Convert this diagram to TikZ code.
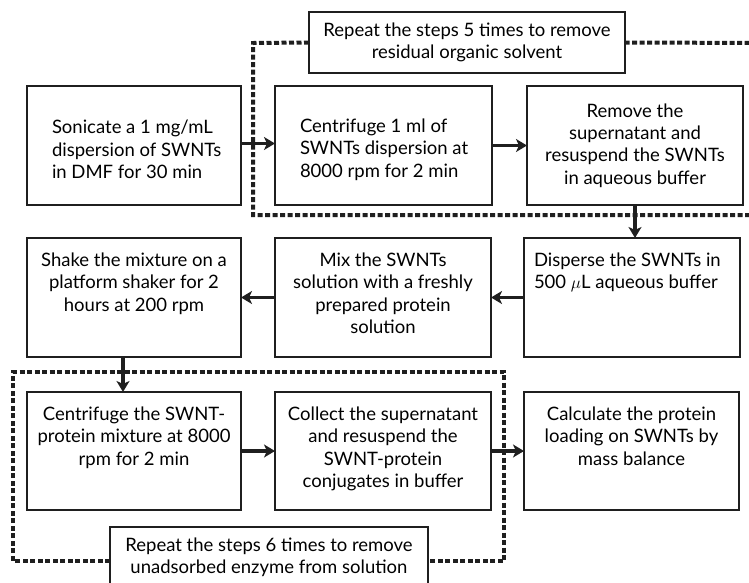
\documentclass[tikz,border=0pt]{standalone}
\usepackage{fontspec}
\setmainfont{Lato}
\usetikzlibrary{arrows.meta}
\tikzset{
  box/.style={draw=black!88, line width=1.6pt, inner sep=0pt, outer sep=0pt},
  flow/.style={line width=3.2pt, draw=black!88, -{Stealth[length=11pt,width=13pt,inset=3pt]}},
  loop/.style={line width=4pt, draw=black!88, dash pattern=on 5pt off 2.5pt},
}
\newcommand{\bt}[3]{\parbox[c][#1][c]{#2}{\centering #3}}
\newcommand{\btl}[3]{\parbox[c][#1][c]{#2}{\vspace*{8pt}\raggedright\leftskip=25pt #3}}
\newcommand{\btt}[4]{\parbox[c][#1][t]{#2}{\vspace*{#3}\centering #4}}
\begin{document}
\begin{tikzpicture}[x=1pt,y=-1pt]
\useasboundingbox (0,0) rectangle (749,582);
\clip (0,0) rectangle (749,582);
\fontsize{18.5}{22.3}\selectfont
% row 1
\node[box] (b1) at (134,145.5) {\btl{119pt}{214pt}{Sonicate a 1 mg/mL\\dispersion of SWNTs\\in DMF for 30 min}};
\node[box] (b2) at (383.5,145.5) {\btl{119pt}{217pt}{Centrifuge 1 ml of\\SWNTs dispersion at\\8000 rpm for 2 min}};
\node[box] (b3) at (635,145.5) {\bt{119pt}{216pt}{Remove the\\supernatant and\\resuspend the SWNTs\\in aqueous buffer}};
\node[box] (r1) at (467,42.5) {\bt{61pt}{316pt}{Repeat the steps 5 times to remove\\residual organic solvent}};
% row 2
\node[box] (b6) at (134,297.5) {\btt{119pt}{214pt}{15pt}{Shake the mixture on a\\platform shaker for 2\\hours at 200 rpm}};
\node[box] (b5) at (383,297.5) {\btt{119pt}{216pt}{15pt}{Mix the SWNTs\\solution with a freshly\\prepared protein\\solution}};
\node[box] (b4) at (632,297.5) {\parbox[c][119pt][t]{216pt}{\vspace*{15pt}\raggedright\leftskip=10pt Disperse the SWNTs in\\500 $\mu$L aqueous buffer}};
% row 3
\node[box] (b7) at (134,451) {\btt{118pt}{214pt}{15pt}{Centrifuge the SWNT-\\protein mixture at 8000\\rpm for 2 min}};
\node[box] (b8) at (383,451) {\btt{118pt}{216pt}{15pt}{Collect the supernatant\\and resuspend the\\SWNT-protein\\conjugates in buffer}};
\node[box] (b9) at (631.5,451) {\btt{118pt}{215pt}{15pt}{Calculate the protein\\loading on SWNTs by\\mass balance}};
\node[box] (r2) at (269,557) {\bt{60pt}{318pt}{Repeat the steps 6 times to remove\\unadsorbed enzyme from solution}};
% loops
\coordinate (l1a) at (253,43);
\coordinate (l1b) at (253,215);
\coordinate (l1c) at (770,215);
\coordinate (l1d) at (770,43);
\draw[loop] (r1.west) -- (l1a) -- (l1b) -- (l1c) -- (l1d) -- (r1.east);
\coordinate (l2a) at (13,561);
\coordinate (l2b) at (13,372);
\coordinate (l2c) at (504,372);
\coordinate (l2d) at (504,561);
\draw[loop] (r2.west |- l2a) -- (l2a) -- (l2b) -- (l2c) -- (l2d) -- (r2.east |- l2d);
% arrows
\draw[flow] ([yshift=2pt]b1.east) -- ([yshift=2pt]b2.west);
\draw[flow] (b2.east) -- (b3.west);
\draw[flow] (b3.south) -- (b3.south |- b4.north);
\draw[flow] (b4.west) -- (b5.east);
\draw[flow] (b5.west) -- (b6.east);
\coordinate (b6s) at ([xshift=-11pt]b6.south);
\draw[flow] (b6s) -- (b6s |- b7.north);
\draw[flow] (b7.east) -- (b8.west);
\draw[flow] (b8.east) -- (b9.west);
\end{tikzpicture}
\end{document}
